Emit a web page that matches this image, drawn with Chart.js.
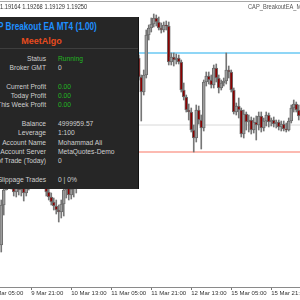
<!DOCTYPE html>
<html>
<head>
<meta charset="utf-8">
<script src="https://cdn.jsdelivr.net/npm/chart.js@4.4.1/dist/chart.umd.min.js"></script>
<style>
  html, body { margin: 0; padding: 0; width: 300px; height: 300px; overflow: hidden; background: #fff; font-family: "Liberation Sans", Arial, sans-serif; }
  #wrap { position: absolute; left: -10px; top: 0; width: 310px; height: 300px; }
  .frame-top { position: absolute; left: 0; top: 1px; width: 300px; height: 1px; background: #a8a8a8; }
  .top-text { position: absolute; top: 2px; font-size: 7.5px; line-height: 9px; white-space: nowrap; transform: scaleX(0.76); transform-origin: left top; }
  #panel { position: absolute; left: -55px; top: 17px; width: 193px; height: 172px; background: #262626; border-right: 1px solid #121212; overflow: hidden; }
  #panel .title { position: absolute; left: 0; top: 4px; width: 193px; text-align: center; font-weight: bold; font-size: 10px; line-height: 12px; color: #1e90ff; white-space: nowrap; transform: scaleX(0.82); }
  #panel .brand { position: absolute; left: 0; top: 18.5px; width: 193px; text-align: center; font-weight: bold; font-size: 9px; line-height: 11px; color: #e84b1e; }
  #panel .sep { position: absolute; left: 0; top: 31px; width: 193px; height: 1px; background: #3e3e3e; }
  #panel .lbl { position: absolute; left: 0; width: 101px; text-align: right; font-size: 6.7px; line-height: 9px; color: #cfcfcf; white-space: nowrap; }
  #panel .val { position: absolute; left: 113px; font-size: 6.7px; line-height: 9px; color: #cfcfcf; white-space: nowrap; }
</style>
</head>
<body>
<div id="wrap"><canvas id="chart"></canvas></div>
<div class="frame-top"></div>
<div class="top-text" style="left:0; color:#333;">1.19164 1.19268 1.19129 1.19250</div>
<div class="top-text" style="left:248px; color:#555;">CAP_BreakoutEA_MT4</div>
<div id="panel">
  <div class="title">CAP Breakout EA MT4 (1.00)</div>
  <div class="brand">MeetAlgo</div>
  <div class="sep"></div>
</div>
<script>
// EURUSD H1 candles, 9 Mar 05:00 onwards (weekend hours skipped)
const opens = [
  1.18640, 1.18620, 1.18595, 1.18615, 1.18605, 1.18805, 1.18880, 1.18920, 1.18905, 1.18900,
  1.18870, 1.18890, 1.18880, 1.18900, 1.18865, 1.18895, 1.18915, 1.18930, 1.18955, 1.18940,
  1.18920, 1.18910, 1.18905, 1.18870, 1.18845, 1.18820, 1.18800, 1.18780, 1.18770, 1.18810,
  1.18880, 1.18890, 1.18855, 1.18885, 1.18905, 1.18925, 1.18955, 1.18990, 1.18980, 1.19020,
  1.19055, 1.19040, 1.19090, 1.19120, 1.19100, 1.19130, 1.19170, 1.19155, 1.19200, 1.19240,
  1.19220, 1.19270, 1.19310, 1.19300, 1.19350, 1.19380, 1.19410, 1.19455, 1.19500, 1.19540,
  1.19445, 1.19370, 1.19455, 1.19655, 1.19690, 1.19710, 1.19740, 1.19720, 1.19690, 1.19680,
  1.19705, 1.19700, 1.19520, 1.19545, 1.19530, 1.19540, 1.19520, 1.19380, 1.19345, 1.19280,
  1.19270, 1.19180, 1.19140, 1.19280, 1.19230, 1.19190, 1.19420, 1.19450, 1.19430, 1.19405,
  1.19490, 1.19440, 1.19390, 1.19415, 1.19425, 1.19480, 1.19470, 1.19380, 1.19270, 1.19300,
  1.19280, 1.19160, 1.19260, 1.19220, 1.19230, 1.19180, 1.19220, 1.19205, 1.19250, 1.19190,
  1.19225, 1.19255, 1.19220, 1.19230, 1.19210, 1.19220, 1.19195, 1.19210, 1.19185, 1.19180,
  1.19225, 1.19290, 1.19310, 1.19280
];
const highs = [
  1.18660, 1.18640, 1.18630, 1.18640, 1.18830, 1.18890, 1.18940, 1.18955, 1.18930, 1.18920,
  1.18905, 1.18910, 1.18915, 1.18920, 1.18905, 1.18930, 1.18950, 1.18970, 1.18980, 1.18960,
  1.18950, 1.18940, 1.18930, 1.18890, 1.18865, 1.18840, 1.18830, 1.18805, 1.18830, 1.18890,
  1.18905, 1.18915, 1.18900, 1.18920, 1.18940, 1.18970, 1.19005, 1.19030, 1.19040, 1.19080,
  1.19090, 1.19105, 1.19140, 1.19155, 1.19145, 1.19190, 1.19205, 1.19220, 1.19255, 1.19280,
  1.19290, 1.19330, 1.19355, 1.19370, 1.19405, 1.19430, 1.19480, 1.19520, 1.19555, 1.19555,
  1.19455, 1.19480, 1.19680, 1.19705, 1.19740, 1.19760, 1.19755, 1.19745, 1.19715, 1.19720,
  1.19725, 1.19720, 1.19565, 1.19565, 1.19560, 1.19555, 1.19530, 1.19415, 1.19355, 1.19310,
  1.19290, 1.19205, 1.19305, 1.19300, 1.19255, 1.19430, 1.19470, 1.19470, 1.19455, 1.19505,
  1.19510, 1.19455, 1.19430, 1.19440, 1.19565, 1.19500, 1.19480, 1.19390, 1.19315, 1.19340,
  1.19290, 1.19280, 1.19270, 1.19255, 1.19245, 1.19240, 1.19250, 1.19270, 1.19270, 1.19240,
  1.19270, 1.19265, 1.19240, 1.19245, 1.19230, 1.19230, 1.19225, 1.19225, 1.19215, 1.19240,
  1.19305, 1.19330, 1.19320, 1.19305
];
const lows = [
  1.18600, 1.18580, 1.18570, 1.18580, 1.18570, 1.18755, 1.18880, 1.18890, 1.18885, 1.18850,
  1.18845, 1.18855, 1.18850, 1.18825, 1.18850, 1.18880, 1.18895, 1.18905, 1.18915, 1.18900,
  1.18895, 1.18890, 1.18850, 1.18830, 1.18805, 1.18780, 1.18760, 1.18720, 1.18740, 1.18750,
  1.18840, 1.18830, 1.18835, 1.18845, 1.18865, 1.18900, 1.18930, 1.18970, 1.18960, 1.19000,
  1.19030, 1.19020, 1.19070, 1.19080, 1.19080, 1.19110, 1.19140, 1.19130, 1.19180, 1.19205,
  1.19200, 1.19250, 1.19280, 1.19280, 1.19330, 1.19355, 1.19390, 1.19430, 1.19480, 1.19430,
  1.19225, 1.19355, 1.19440, 1.19630, 1.19670, 1.19695, 1.19700, 1.19680, 1.19665, 1.19670,
  1.19680, 1.19505, 1.19505, 1.19500, 1.19510, 1.19510, 1.19370, 1.19330, 1.19270, 1.19230,
  1.19170, 1.19070, 1.19120, 1.19210, 1.19085, 1.19175, 1.19400, 1.19410, 1.19390, 1.19390,
  1.19420, 1.19365, 1.19380, 1.19400, 1.19410, 1.19440, 1.19370, 1.19260, 1.19255, 1.19240,
  1.19145, 1.19140, 1.19180, 1.19170, 1.19160, 1.19165, 1.19130, 1.19180, 1.19170, 1.19175,
  1.19200, 1.19195, 1.19200, 1.19195, 1.19190, 1.19180, 1.19175, 1.19175, 1.19170, 1.19175,
  1.19215, 1.19270, 1.19270, 1.19230
];
const closes = [
  1.18620, 1.18595, 1.18615, 1.18605, 1.18805, 1.18880, 1.18920, 1.18905, 1.18900, 1.18870,
  1.18890, 1.18880, 1.18900, 1.18865, 1.18895, 1.18915, 1.18930, 1.18955, 1.18940, 1.18920,
  1.18910, 1.18905, 1.18870, 1.18845, 1.18820, 1.18800, 1.18780, 1.18770, 1.18810, 1.18880,
  1.18890, 1.18855, 1.18885, 1.18905, 1.18925, 1.18955, 1.18990, 1.18980, 1.19020, 1.19055,
  1.19040, 1.19090, 1.19120, 1.19100, 1.19130, 1.19170, 1.19155, 1.19200, 1.19240, 1.19220,
  1.19270, 1.19310, 1.19300, 1.19350, 1.19380, 1.19410, 1.19455, 1.19500, 1.19540, 1.19445,
  1.19370, 1.19455, 1.19655, 1.19690, 1.19710, 1.19740, 1.19720, 1.19690, 1.19680, 1.19705,
  1.19700, 1.19520, 1.19545, 1.19530, 1.19540, 1.19520, 1.19380, 1.19345, 1.19280, 1.19270,
  1.19180, 1.19140, 1.19280, 1.19230, 1.19190, 1.19420, 1.19450, 1.19430, 1.19405, 1.19490,
  1.19440, 1.19390, 1.19415, 1.19425, 1.19480, 1.19470, 1.19380, 1.19270, 1.19300, 1.19280,
  1.19160, 1.19260, 1.19220, 1.19230, 1.19180, 1.19220, 1.19205, 1.19250, 1.19190, 1.19225,
  1.19255, 1.19220, 1.19230, 1.19210, 1.19220, 1.19195, 1.19210, 1.19185, 1.19180, 1.19225,
  1.19290, 1.19310, 1.19280, 1.19250
];

// horizontal levels drawn by the EA (breakout high, mid, breakout low)
const levelPrices = [1.19565, 1.19205, 1.19070];
const levelStyles = [
  { color: "#8fd6f6", width: 2 },
  { color: "#d8d8d8", width: 1 },
  { color: "#fba397", width: 1.5 },
];

const TICK_STEP = 16;
const MONTHS = ["Jan", "Feb", "Mar", "Apr", "May", "Jun", "Jul", "Aug", "Sep", "Oct", "Nov", "Dec"];

// hourly bar times, skipping Saturday/Sunday like MT4 does
const categories = [];
let t = Date.UTC(2021, 2, 9, 5);
while (categories.length < closes.length) {
  const d = new Date(t);
  if (d.getUTCDay() !== 0 && d.getUTCDay() !== 6) {
    const hh = String(d.getUTCHours()).padStart(2, "0");
    categories.push(`${d.getUTCDate()} ${MONTHS[d.getUTCMonth()]} ${hh}:00`);
  }
  t += 3600000;
}

// info panel rows: [label, value, value colour, row]
const panelRows = [
  ["Status", "Running", "#22b822", 0],
  ["Broker GMT", "0", null, 1],
  ["Current Profit", "0.00", "#22b822", 3],
  ["Today Profit", "0.00", "#22b822", 4],
  ["This Week Profit", "0.00", "#22b822", 5],
  ["Balance", "4999959.57", null, 7],
  ["Leverage", "1:100", null, 8],
  ["Account Name", "Mohammad Ali", null, 9],
  ["Account Server", "MetaQuotes-Demo", null, 10],
  ["No. of Trade (Today)", "0", null, 11],
  ["Slippage Trades", "0 | 0%", null, 13],
];

const panel = document.getElementById("panel");
panelRows.forEach(([label, value, color, row]) => {
  const top = 36.5 + row * 9.35;
  const l = document.createElement("div");
  l.className = "lbl";
  l.style.top = top + "px";
  l.textContent = label;
  const v = document.createElement("div");
  v.className = "val";
  v.style.top = top + "px";
  if (color) v.style.color = color;
  v.textContent = value;
  panel.appendChild(l);
  panel.appendChild(v);
});

const levelLines = {
  id: "levelLines",
  beforeDatasetsDraw(chart) {
    const { ctx, chartArea: a, scales: { y } } = chart;
    ctx.save();
    levelPrices.forEach((p, i) => {
      const py = y.getPixelForValue(p);
      ctx.strokeStyle = levelStyles[i].color;
      ctx.lineWidth = levelStyles[i].width;
      ctx.beginPath();
      ctx.moveTo(a.left, py);
      ctx.lineTo(a.right, py);
      ctx.stroke();
    });
    ctx.restore();
  },
};

const bodyColors = closes.map((c, i) => (c < opens[i] ? "#8b0000" : "#9c9c9c"));

new Chart(document.getElementById("chart"), {
  type: "bar",
  data: {
    labels: categories,
    datasets: [
      {
        label: "wick",
        data: lows.map((l, i) => [l, highs[i]]),
        backgroundColor: "#767676",
        barThickness: 1,
        grouped: false,
        order: 2,
      },
      {
        label: "body",
        data: opens.map((o, i) => [o, closes[i]]),
        backgroundColor: bodyColors,
        borderColor: "#6c6c6c",
        borderWidth: 1,
        borderSkipped: false,
        barThickness: 3,
        grouped: false,
        order: 1,
      },
    ],
  },
  options: {
    responsive: true,
    maintainAspectRatio: false,
    animation: false,
    events: [],
    layout: { padding: { top: 2, left: 0, right: 0, bottom: 0 } },
    plugins: { legend: { display: false }, tooltip: { enabled: false } },
    scales: {
      x: {
        offset: true,
        border: { display: true, color: "#8a8a8a" },
        grid: { display: true, drawOnChartArea: false, drawTicks: true, tickLength: 3, offset: false, color: "#777" },
        ticks: {
          autoSkip: false,
          maxRotation: 0,
          align: "start",
          padding: 0,
          color: "#333",
          font: { family: "Liberation Sans", size: 6 },
          callback: (v) => categories[v],
        },
        afterBuildTicks: (s) => {
          s.ticks = s.ticks.filter((tk) => tk.value % TICK_STEP === 0);
        },
        afterFit: (s) => {
          s.height = 13;
          s.paddingLeft = 0;
          s.paddingRight = 0;
        },
      },
      y: { display: false, min: 1.18395, max: 1.19820 },
    },
  },
  plugins: [levelLines],
});
</script>
</body>
</html>
